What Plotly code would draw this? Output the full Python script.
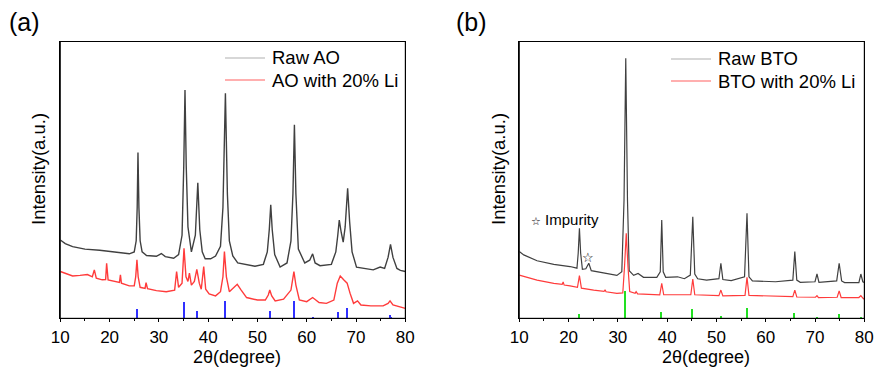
import plotly.graph_objects as go

# ---------------- Panel (a): AO ----------------
ao_raw_x = [10.0, 11.0, 12.5, 15, 18, 21, 24, 25.0, 25.4, 25.6, 25.76, 25.95, 26.2, 26.6, 27.5, 29.5, 30.5, 31.3, 33,
            34.0, 34.7, 35.05, 35.3, 35.55, 35.9, 36.6, 37.4, 37.9, 38.3, 38.8, 39.4, 40.5, 41.5, 42.5, 43.0, 43.5,
            43.9, 44.3, 45.0, 46.0, 47.5, 49.5, 51.2, 52.0, 52.4, 52.7, 53.0, 53.5, 54.6, 56.0, 56.8, 57.2, 57.5,
            57.8, 58.3, 59.6, 60.6, 61.2, 61.7, 62.7, 65.0, 65.9, 66.3, 66.6, 67.0, 67.4, 67.8, 68.3, 68.7, 69.2,
            70.1, 72, 73.5, 74.9, 75.8, 76.5, 77.0, 77.5, 78.3, 79, 80]
ao_raw_y = [28.3, 27.0, 25.9, 25.0, 24.6, 24.0, 23.3, 24.0, 28, 40, 59.9, 40, 28, 24, 22.7, 22.4, 23.4, 22.3, 21.7,
            23, 30, 55, 82.5, 55, 33, 24, 30, 49, 32, 24, 21.5, 21.5, 22.5, 26, 40, 81.3,
            45, 28, 22.5, 20, 19.5, 18.8, 19.5, 24, 32, 41, 32, 23, 18.5, 20, 28, 45, 69.9,
            45, 25, 20, 21, 23.3, 20, 19, 19.5, 24, 30, 35.5, 31, 27.5, 33, 47, 35, 24,
            18.5, 17.8, 17.5, 18.5, 18, 22, 26.7, 22, 18, 17.3, 16.9]

ao_li_x = [10.0, 11, 12.5, 14.0, 15.5, 16.5, 16.9, 17.3, 18.5, 19.2, 19.4, 19.7, 21, 22.0, 22.2, 22.4, 24.0, 25.0,
           25.3, 25.55, 25.8, 26.2, 27.2, 27.4, 27.7, 29.5, 31.5, 33.2, 33.6, 34.0, 34.7, 35.1, 35.5, 35.9, 36.2,
           36.6, 37.2, 37.7, 38.2, 38.6, 39.1, 39.5, 40.2, 41.5, 42.5, 43.0, 43.3, 43.7, 44.3, 45.0, 45.9, 46.7,
           47.8, 50, 51.6, 52.2, 52.5, 52.9, 53.6, 55.3, 56.2, 56.8, 57.4, 57.8, 58.5, 60.0, 61.2, 62.5, 64.0,
           65.5, 66.2, 66.8, 67.5, 68.2, 68.8, 69.5, 70.3, 71.0, 73.0, 75.5, 76.5, 76.9, 77.5, 79, 80]
ao_li_y = [16.9, 16.3, 15.3, 15.5, 15.8, 15, 17.5, 14.5, 13.9, 14, 19.9, 13.9, 13.3, 13, 15.7, 12.7, 11.7, 11.7,
           15, 21.1, 15, 11.2, 10.8, 12.9, 10.7, 10, 9.6, 10.2, 16.9, 11.2, 12.7, 25.3, 15, 13.3, 16.3,
           12, 13.3, 17.7, 12.7, 10.5, 18.7, 10.5, 8.8, 8.1, 9.6, 15, 24.1, 15, 9.6, 10.8, 12.3, 10.2,
           7.5, 6.6, 6.6, 8.4, 10.2, 8.1, 6.3, 6.9, 8.8, 10.2, 16.9, 12, 6.6, 6, 7.5, 5.7, 5.4,
           6.6, 12.7, 15.3, 13.9, 12.7, 9, 5.4, 6.3, 4.8, 4.5, 4.5, 5.4, 6.3, 4.8, 4, 3.6]

ao_ref_x = [25.6, 35.2, 37.8, 43.4, 52.6, 57.5, 61.3, 66.5, 68.2, 76.9, 77.2]
ao_ref_h = [3.6, 6.0, 2.7, 6.4, 3.0, 6.4, 0.4, 2.4, 4.0, 1.2, 0.6]

# ---------------- Panel (b): BTO ----------------
bto_raw_x = [10.0, 10.9, 13.6, 17.0, 20.3, 21.7, 21.95, 22.2, 22.45, 22.8, 23.5, 24.1, 24.6, 27.1, 29.8, 30.8,
             31.25, 31.6, 31.95, 32.3, 33.2, 34.1, 35.2, 37.9, 38.6, 38.9, 39.2, 39.7, 42.1, 43.5, 44.7, 45.2,
             45.6, 46.2, 48, 50.5, 50.9, 51.3, 53, 55.7, 56.2, 56.6, 57.3, 62, 65.5, 65.9, 66.3, 67, 70.0, 70.4,
             70.8, 74.4, 74.9, 75.4, 76, 78.9, 79.3, 79.7, 80]
bto_raw_y = [24.1, 22.9, 20.8, 19.5, 18.7, 18.1, 23.5, 32.5, 23.5, 17.7, 17.9, 19.9, 17.2, 16.5, 15.5, 16.8,
             42.7, 93.9, 42.7, 17.2, 15.5, 16.2, 14.8, 14.8, 16.8, 35.5, 16.8, 14.8, 15, 14.3, 15.6, 36.7,
             16.0, 14.3, 13.8, 14.3, 19.9, 14.0, 13.6, 15, 37.9, 15, 13.5, 13.2, 13.8, 24.1, 13.8, 13, 13.2, 16,
             13.0, 13.5, 19.9, 13.5, 12.9, 12.9, 16, 13.2, 12.9]

bto_li_x = [10.0, 13.6, 17.0, 18.7, 18.9, 19.1, 20.3, 21.8, 22.2, 22.6, 25.1, 27.2, 27.4, 27.6, 29.8, 31.0, 31.35,
            31.7, 32.05, 32.4, 33.5, 33.7, 34, 38.5, 38.9, 39.3, 44.8, 45.2, 45.6, 50.5, 50.9, 51.3, 55.8, 56.2,
            56.6, 65.5, 65.9, 66.3, 70.1, 70.4, 70.7, 74.5, 74.9, 75.3, 78.9, 79.3, 79.7, 80]
bto_li_y = [15.6, 13.8, 12.6, 12.3, 13.1, 12.0, 11.7, 11.2, 15.4, 10.9, 10.2, 9.7, 10.3, 9.6, 9.0, 9.2, 18.7,
            30.7, 18.7, 9.7, 9.0, 9.6, 8.8, 8.5, 12.6, 8.5, 8.5, 14.2, 8.5, 8.2, 10.2, 8.1, 8.3, 14.8,
            8.3, 7.8, 10.2, 7.7, 7.6, 8.2, 7.5, 7.6, 9.9, 7.5, 7.5, 8.2, 7.3, 6.9]

bto_ref_x = [22.2, 31.6, 38.9, 45.2, 50.9, 56.2, 65.8, 70.4, 74.9, 79.3]
bto_ref_h = [1.8, 9.9, 2.4, 3.4, 1.0, 3.9, 2.0, 0.3, 1.7, 0.8]

x_ticks = [10, 20, 30, 40, 50, 60, 70, 80]

FONT = "Liberation Sans, Arial, sans-serif"
STAR_FONT = "DejaVu Sans"
BLACK_LINE = "#404040"
RED_LINE = "#ff3b3b"

fig = go.Figure()

fig.add_trace(go.Scatter(x=ao_raw_x, y=ao_raw_y, mode="lines", line=dict(color=BLACK_LINE, width=1.4),
                         name="Raw AO", xaxis="x", yaxis="y", showlegend=False))
fig.add_trace(go.Scatter(x=ao_li_x, y=ao_li_y, mode="lines", line=dict(color=RED_LINE, width=1.4),
                         name="AO with 20% Li", xaxis="x", yaxis="y", showlegend=False))
fig.add_trace(go.Bar(x=ao_ref_x, y=ao_ref_h, width=0.22, marker=dict(color="#3030ff", line=dict(width=0)),
                     xaxis="x", yaxis="y", showlegend=False))

fig.add_trace(go.Scatter(x=bto_raw_x, y=bto_raw_y, mode="lines", line=dict(color=BLACK_LINE, width=1.2),
                         name="Raw BTO", xaxis="x2", yaxis="y2", showlegend=False))
fig.add_trace(go.Scatter(x=bto_li_x, y=bto_li_y, mode="lines", line=dict(color=RED_LINE, width=1.2),
                         name="BTO with 20% Li", xaxis="x2", yaxis="y2", showlegend=False))
fig.add_trace(go.Bar(x=bto_ref_x, y=bto_ref_h, width=0.22, marker=dict(color="#22e022", line=dict(width=0)),
                     xaxis="x2", yaxis="y2", showlegend=False))

W, H = 877, 372
def px(xp):
    return xp / W
def py(yp):
    return 1 - yp / H

xa = dict(range=[10, 80], tickvals=x_ticks, ticks="outside", ticklen=3, tickwidth=1, tickcolor="black",
          minor=dict(dtick=5, ticks="outside", ticklen=2, tickcolor="black"),
          showline=True, linecolor="black", linewidth=1, mirror=True, showgrid=False, zeroline=False,
          automargin=False,
          tickfont=dict(family=FONT, size=17, color="black"))
ya = dict(range=[0, 100], showticklabels=False, ticks="", showline=True, linecolor="black", linewidth=1,
          mirror=True, showgrid=False, zeroline=False, automargin=False)

fig.update_layout(
    width=W, height=H, margin=dict(l=0, r=0, t=0, b=0, autoexpand=False),
    paper_bgcolor="white", plot_bgcolor="white", bargap=0,
    xaxis=dict(domain=[px(60.3), px(405.3)], anchor="y", **xa),
    yaxis=dict(domain=[py(318.3), py(41.5)], anchor="x", **ya),
    xaxis2=dict(domain=[px(519.3), px(864.3)], anchor="y2", **xa),
    yaxis2=dict(domain=[py(318.3), py(41.5)], anchor="x2", **ya),
)

shapes = []
annots = []
# plot frames
for xr, yr in (("x domain", "y domain"), ("x2 domain", "y2 domain")):
    shapes.append(dict(type="rect", xref=xr, yref=yr, x0=0, x1=1, y0=0, y1=1,
                       line=dict(color="black", width=1), layer="above"))

def legend_item(x0, x1, y, color, text):
    shapes.append(dict(type="line", xref="paper", yref="paper", x0=px(x0), x1=px(x1), y0=py(y), y1=py(y),
                       line=dict(color=color, width=1.2)))
    annots.append(dict(text=text, xref="paper", yref="paper", x=px(x1 + 5), y=py(y), xanchor="left",
                       yanchor="middle", showarrow=False, font=dict(family=FONT, size=18.5, color="black")))

legend_item(225, 265, 58, "#b0b0b0", "Raw AO")
legend_item(225, 265, 80, "#ff6060", "AO with 20% Li")
legend_item(671, 711, 59, "#b0b0b0", "Raw BTO")
legend_item(671, 711, 81, "#ff6060", "BTO with 20% Li")

for t, xc in (("(a)", 24), ("(b)", 471)):
    annots.append(dict(text=t, xref="paper", yref="paper", x=px(xc), y=py(22), xanchor="center",
                       yanchor="middle", showarrow=False, font=dict(family=FONT, size=25, color="black")))

for xc in (38, 498):
    annots.append(dict(text="Intensity(a.u.)", xref="paper", yref="paper", x=px(xc), y=py(169),
                       xanchor="center", yanchor="middle", textangle=-90, showarrow=False,
                       font=dict(family=FONT, size=18.5, color="black")))

for xc in (237, 706):
    annots.append(dict(text="2θ(degree)", xref="paper", yref="paper", x=px(xc), y=py(357),
                       xanchor="center", yanchor="middle", showarrow=False, borderpad=0,
                       font=dict(family=FONT, size=18, color="black")))

annots.append(dict(text="<span style='font-family:DejaVu Sans;font-size:11px'>☆</span> Impurity",
                   xref="paper", yref="paper", x=px(529), y=py(219), xanchor="left",
                   yanchor="middle", showarrow=False, font=dict(family=FONT, size=15, color="black")))
annots.append(dict(text="☆", xref="x2", yref="y2", x=24.0, y=21.8, xanchor="center", yanchor="middle",
                   showarrow=False, font=dict(family=STAR_FONT, size=13, color="black")))

fig.update_layout(shapes=shapes, annotations=annots)
fig.write_html("out.html", config={"displayModeBar": False},
               post_script="document.body.style.margin='0';document.body.style.padding='0';"
                           "document.body.style.overflow='hidden';")
